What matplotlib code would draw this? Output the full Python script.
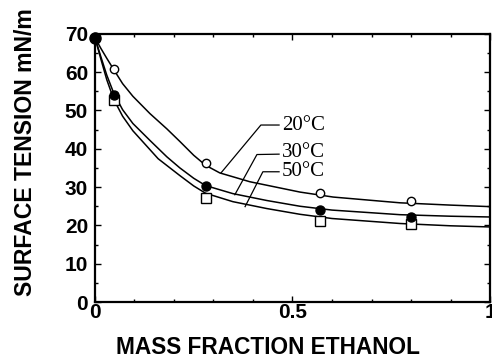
import matplotlib
matplotlib.use('Agg')
import matplotlib.pyplot as plt
from matplotlib.ticker import MultipleLocator

# measured points
x_pts = [0.0, 0.048, 0.28, 0.57, 0.80]
st_20 = [69.0, 60.8, 36.4, 28.4, 26.4]
st_30 = [69.0, 54.0, 30.4, 24.0, 22.3]
st_50 = [69.0, 52.8, 27.2, 21.2, 20.4]

# fitted curves
x_fit_20 = [0.0, 0.015, 0.03, 0.048, 0.07, 0.096, 0.139, 0.182, 0.215, 0.25, 0.28, 0.316, 0.392, 0.519, 0.603, 0.772, 0.9, 1.0]
fit_20 = [69.0, 66.2, 63.6, 60.6, 57.0, 53.7, 49.2, 45.2, 41.9, 38.3, 35.7, 33.7, 31.4, 28.7, 27.4, 25.9, 25.3, 24.9]
x_fit_30 = [0.0, 0.015, 0.03, 0.048, 0.07, 0.096, 0.139, 0.182, 0.215, 0.25, 0.28, 0.349, 0.435, 0.519, 0.6, 0.772, 0.9, 1.0]
fit_30 = [69.0, 64.0, 59.2, 54.4, 50.2, 46.6, 42.2, 37.9, 35.0, 32.3, 30.4, 28.3, 26.5, 25.0, 24.0, 22.8, 22.4, 22.2]
x_fit_50 = [0.0, 0.015, 0.03, 0.048, 0.07, 0.096, 0.139, 0.16, 0.215, 0.25, 0.28, 0.349, 0.435, 0.519, 0.6, 0.772, 0.9, 1.0]
fit_50 = [69.0, 63.4, 58.0, 52.8, 48.5, 44.7, 39.8, 37.4, 33.0, 30.3, 28.4, 26.2, 24.4, 22.9, 21.8, 20.5, 19.9, 19.6]

labels = ['20°C', '30°C', '50°C']

fig = plt.figure(figsize=(4.92, 3.6), dpi=100)
ax = fig.add_axes([0.193, 0.161, 0.803, 0.745])

lw = 1.1
ax.plot(x_fit_20, fit_20, color='black', lw=lw)
ax.plot(x_fit_30, fit_30, color='black', lw=lw)
ax.plot(x_fit_50, fit_50, color='black', lw=lw)

ax.plot(x_pts[1:], st_20[1:], 'o', mfc='white', mec='black', ms=6, mew=1.0, ls='none')
ax.plot(x_pts[1:], st_50[1:], 's', mfc='white', mec='black', ms=7, mew=1.0, ls='none')
ax.plot(x_pts[1:], st_30[1:], 'o', mfc='black', mec='black', ms=6.5, ls='none')
ax.plot([x_pts[0]], [st_30[0]], 'o', mfc='black', mec='black', ms=8, ls='none', clip_on=False)

# leader lines and labels
leaders = [
    ((0.319, 33.7), (0.420, 46.2), (0.466, 46.2), (0.475, 46.2)),
    ((0.354, 28.0), (0.410, 38.5), (0.466, 38.6), (0.473, 39.0)),
    ((0.380, 24.9), (0.425, 34.0), (0.466, 34.0), (0.473, 34.0)),
]
for lab, (p0, p1, p2, t) in zip(labels, leaders):
    ax.plot([p0[0], p1[0], p2[0]], [p0[1], p1[1], p2[1]], color='black', lw=0.9)
    ax.text(t[0], t[1], lab, family='Liberation Serif', fontsize=15,
            ha='left', va='center')

ax.set_xlim(0, 1)
ax.set_ylim(0, 70)
ax.xaxis.set_major_locator(MultipleLocator(0.5))
ax.xaxis.set_minor_locator(MultipleLocator(0.1))
ax.yaxis.set_major_locator(MultipleLocator(10))
ax.yaxis.set_minor_locator(MultipleLocator(5))
ax.set_xticks([0, 0.5, 1])
ax.set_xticklabels(['0', '0.5', '1'])

ax.tick_params(which='both', direction='in', top=True, right=True, width=1.0)
ax.tick_params(which='major', length=4, labelsize=15)
ax.tick_params(axis='x', which='major', pad=1)
ax.tick_params(axis='y', which='major', pad=5)
ax.tick_params(which='minor', length=2)
for lbl in ax.get_xticklabels() + ax.get_yticklabels():
    lbl.set_fontweight('bold')
    lbl.set_family('Liberation Sans')
for sp in ax.spines.values():
    sp.set_linewidth(1.6)

ax.set_xlabel('MASS FRACTION ETHANOL', family='Liberation Sans', fontweight='bold',
              fontsize=16.3)
ax.set_ylabel('SURFACE TENSION mN/m', family='Liberation Sans', fontweight='bold',
              fontsize=16.6)
ax.xaxis.set_label_coords(0.438, -0.128)
ax.yaxis.set_label_coords(-0.147, 0.56)

fig.savefig('out.png', dpi=100)
